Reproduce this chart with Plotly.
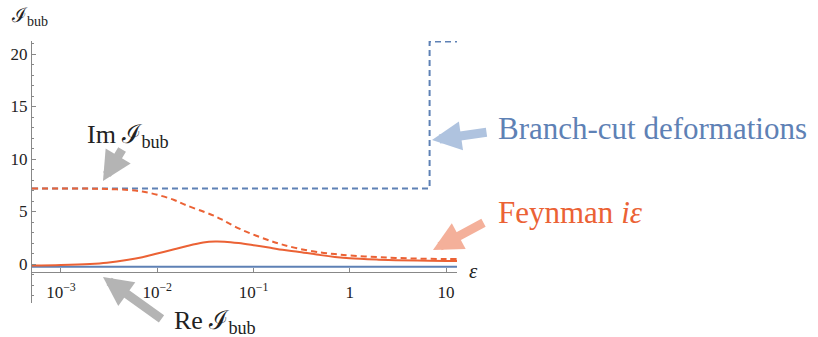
import plotly.graph_objects as go

# ---- data ----
eps = [5e-4, 1e-3, 2e-3, 3e-3, 5e-3, 7e-3, 1e-2, 1.5e-2, 2e-2, 3e-2, 4e-2, 5e-2,
       7e-2, 0.1, 0.15, 0.2, 0.3, 0.5, 0.7, 1, 2, 3, 5, 10, 13]
feyn_re = [-0.15, -0.1, 0.0, 0.12, 0.4, 0.65, 1.0, 1.4, 1.7, 2.05, 2.15, 2.13,
           2.0, 1.8, 1.55, 1.35, 1.15, 0.85, 0.68, 0.55, 0.42, 0.37, 0.33, 0.3, 0.3]
feyn_im = [7.2, 7.2, 7.18, 7.15, 7.05, 6.9, 6.6, 6.1, 5.6, 5.0, 4.55, 4.1,
           3.4, 2.8, 2.2, 1.85, 1.45, 1.1, 0.95, 0.82, 0.65, 0.58, 0.52, 0.48, 0.47]
branch_eps = [5e-4, 6.75, 6.75, 13]
branch_im = [7.2, 7.2, 21.2, 21.2]
branch_re_eps = [5e-4, 13]
branch_re = [-0.26, -0.26]

xtick_vals = [1e-3, 1e-2, 1e-1, 1, 10]
xtick_text = ["10<sup>−3</sup>", "10<sup>−2</sup>", "10<sup>−1</sup>", "1", "10"]
ytick_vals = [0, 5, 10, 15, 20]

BLUE = "#5E81B5"
RED = "#EB6235"
FONT = "Liberation Serif"

fig = go.Figure()
fig.add_trace(go.Scatter(x=branch_re_eps, y=branch_re, mode="lines",
                         line=dict(color=BLUE, width=2.2)))
fig.add_trace(go.Scatter(x=branch_eps, y=branch_im, mode="lines",
                         line=dict(color=BLUE, width=2, dash="6px,4px")))
fig.add_trace(go.Scatter(x=eps, y=feyn_im, mode="lines", line_shape="spline",
                         line=dict(color=RED, width=2, dash="6px,4px")))
fig.add_trace(go.Scatter(x=eps, y=feyn_re, mode="lines", line_shape="spline",
                         line=dict(color=RED, width=2)))

# plot-area pixel frame
L, R, T, B = 32, 457, 41, 303
W, H = 818, 337


def px(x):
    return (x - L) / (R - L)


def py(y):
    return (B - y) / (B - T)


fig.update_layout(
    width=W, height=H,
    margin=dict(l=L, r=W - R, t=T, b=H - B, autoexpand=False),
    paper_bgcolor="white", plot_bgcolor="white",
    showlegend=False,
    font=dict(family=FONT, size=15, color="#222"),
)
fig.update_xaxes(type="log", range=[-3.301, 1.114], showgrid=False, zeroline=False,
                 showline=True, linecolor="#888", linewidth=1, automargin=False,
                 anchor="free", position=py(272),
                 tickvals=xtick_vals, ticktext=xtick_text,
                 ticks="inside", ticklen=4, tickcolor="#888",
                 ticklabelstandoff=5,
                 tickfont=dict(family=FONT, size=17, color="#222"))
fig.update_yaxes(range=[-3.71, 21.24], showgrid=False, zeroline=False,
                 showline=True, linecolor="#888", linewidth=1, automargin=False,
                 tickvals=ytick_vals, ticks="inside", ticklen=4, tickcolor="#888",
                 minor=dict(dtick=1, ticks="inside", ticklen=2, tickcolor="#888"),
                 tickfont=dict(family=FONT, size=17, color="#222"))

IB = "<span style='font-family:DejaVu Serif'>ℐ</span><sub>bub</sub>"
texts = [
    (9, 16, IB, 20, "#222"),
    (85, 135, "Im " + IB, 26, "#222"),
    (172, 321, "Re " + IB, 26, "#222"),
    (496, 128, "Branch-cut deformations", 31, BLUE),
    (496, 212, "Feynman <i>iε</i>", 31, RED),
    (467, 271, "<i>ε</i>", 21, "#222"),
]
for x, y, t, s, c in texts:
    fig.add_annotation(x=px(x), y=py(y), xref="paper", yref="paper", text=t,
                       showarrow=False, xanchor="left", yanchor="middle",
                       font=dict(family=FONT, size=s, color=c))

arrows = [
    (103, 181, 20, -33, "#B4B4B4"),
    (103, 277, 60, 43, "#B4B4B4"),
    (432, 140, 56, -8, "#AFC3DF"),
    (433, 250, 52, -28, "#F4B09A"),
]
for x, y, ax, ay, c in arrows:
    fig.add_annotation(x=px(x), y=py(y), xref="paper", yref="paper", text="",
                       showarrow=True, ax=ax, ay=ay, axref="pixel", ayref="pixel",
                       arrowhead=2, arrowsize=0.65, arrowwidth=9, arrowcolor=c)

fig.write_html("out.html", config={"displayModeBar": False},
               post_script="document.body.style.margin='0';"
                           "document.body.style.overflow='hidden';")
